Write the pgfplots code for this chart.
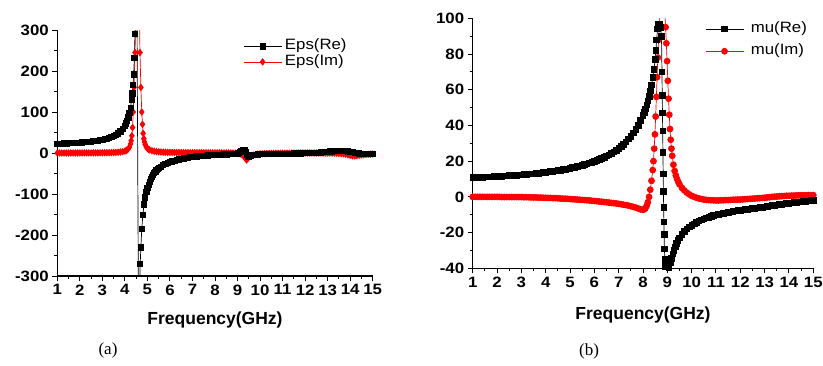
\documentclass[border=0pt]{standalone}
\usepackage{pgfplots}
\pgfplotsset{compat=1.18}
\usepackage{pgfplotstable}
\usepackage{fontspec}
\setmainfont{Liberation Serif}
\newfontfamily\arialx[FakeStretch=1.12]{Liberation Sans}
\newfontfamily\arial{Liberation Sans}

\pgfplotstableread[row sep=\\]{x y\\
1.0 23.0\\1.1 23.1\\1.2 23.3\\1.3 23.5\\1.4 23.7\\1.5 23.9\\1.6 24.2\\1.7 24.5\\1.8 24.8\\1.9 25.1\\2.0 25.5\\2.1 25.9\\2.2 26.4\\2.3 26.9\\2.4 27.4\\2.5 28.0\\2.6 28.7\\2.7 29.5\\2.8 30.4\\2.9 31.4\\3.0 32.5\\3.1 33.8\\3.2 35.3\\3.3 37.0\\3.4 39.1\\3.5 41.5\\3.6 44.5\\3.7 48.1\\3.8 52.7\\3.9 58.8\\4.0 67.0\\4.05 72.3\\4.1 78.8\\4.15 86.9\\4.2 97.3\\4.25 110.9\\4.3 130\\4.33 145.4\\4.36 165.3\\4.39 192\\4.42 231.6\\4.45 290\\4.48 396\\4.51 628\\
4.62 -560\\4.65 -330\\4.68 -270\\4.71 -230\\4.75 -185\\4.8 -150\\4.85 -125\\4.9 -108\\4.95 -95\\5.0 -85\\5.05 -77\\5.1 -70\\5.15 -64\\5.2 -58\\5.25 -53\\5.3 -49\\5.35 -45.5\\5.4 -42\\5.45 -39.5\\5.5 -37\\5.6 -33\\5.7 -29.5\\5.8 -26.5\\5.9 -24\\6.0 -22\\6.1 -20.2\\6.2 -18.5\\6.3 -17\\6.4 -15.5\\6.5 -14.2\\6.6 -13\\6.7 -12\\6.8 -11\\6.9 -10.2\\7.0 -9.5\\7.1 -8.8\\7.2 -8\\7.3 -7.5\\7.4 -7\\7.5 -6.5\\7.6 -6\\7.7 -5.5\\7.8 -5\\7.9 -4.8\\8.0 -4.5\\8.1 -4.2\\8.2 -4\\8.3 -3.7\\8.4 -3.5\\8.5 -3.2\\8.6 -3\\8.7 -2.8\\8.8 -2.5\\8.9 -1.8\\9.0 -1\\9.05 0.5\\9.1 2\\9.15 4\\9.2 6\\9.25 8\\9.3 7\\9.35 2\\9.4 -5\\9.45 -8\\9.5 -8\\9.55 -7.2\\9.6 -6.5\\9.7 -5\\9.8 -4\\9.9 -3.5\\10.0 -3\\10.1 -2.8\\10.2 -2.5\\10.3 -2.3\\10.4 -2.1\\10.5 -2\\10.6 -1.9\\10.7 -1.8\\10.8 -1.7\\10.9 -1.6\\11.0 -1.5\\11.1 -1.4\\11.2 -1.3\\11.3 -1.2\\11.4 -1.1\\11.5 -1\\11.6 -0.9\\11.7 -0.8\\11.8 -0.7\\11.9 -0.6\\12.0 -0.5\\12.1 -0.3\\12.2 -0.1\\12.3 0.1\\12.4 0.3\\12.5 0.5\\12.6 1\\12.7 1.5\\12.8 2\\12.9 2.8\\13.0 3.5\\13.1 3.8\\13.2 4.2\\13.3 4.5\\13.4 4.7\\13.5 4.9\\13.6 5\\13.7 4.8\\13.8 4.4\\13.9 4\\14.0 3\\14.1 2\\14.2 1\\14.3 0\\14.4 -0.8\\14.5 -1.5\\14.6 -2\\14.7 -2.5\\14.8 -2.7\\14.9 -2.9\\15.0 -3\\
}\epsre

\pgfplotstableread[row sep=\\]{x y\\
1.0 0\\1.1 0\\1.2 0\\1.3 0\\1.4 0\\1.5 0\\1.6 0\\1.7 0.1\\1.8 0.1\\1.9 0.1\\2.0 0.1\\2.1 0.1\\2.2 0.2\\2.3 0.2\\2.4 0.2\\2.5 0.2\\2.6 0.3\\2.7 0.3\\2.8 0.4\\2.9 0.4\\3.0 0.5\\3.1 0.6\\3.2 0.7\\3.3 0.8\\3.4 1.0\\3.5 1.2\\3.6 1.5\\3.7 1.9\\3.8 2.4\\3.9 3.2\\4.0 4.6\\4.05 5.8\\4.1 7.5\\4.15 10\\4.2 14\\4.25 22\\4.28 30\\4.31 42\\4.34 62\\4.37 100\\4.41 160\\4.45 245\\4.48 350\\4.51 500\\4.56 650\\4.61 500\\4.64 350\\4.67 245\\4.71 160\\4.75 100\\4.78 70\\4.81 48\\4.84 35\\4.87 27\\4.9 21\\4.95 15\\5.0 11\\5.05 9\\5.1 7.5\\5.2 5.5\\5.3 4.2\\5.4 3.4\\5.5 2.8\\5.6 2.4\\5.7 2.1\\5.8 1.9\\5.9 1.7\\6.0 1.5\\6.1 1.4\\6.2 1.3\\6.3 1.2\\6.4 1.1\\6.5 1.0\\6.6 1.0\\6.7 0.9\\6.8 0.9\\6.9 0.8\\7.0 0.8\\7.1 0.8\\7.2 0.7\\7.3 0.7\\7.4 0.7\\7.5 0.6\\7.6 0.6\\7.7 0.6\\7.8 0.5\\7.9 0.5\\8.0 0.5\\8.1 0.5\\8.2 0.4\\8.3 0.4\\8.4 0.3\\8.5 0.3\\8.6 0.2\\8.7 0.1\\8.8 0\\8.9 -0.3\\9.0 -0.8\\9.1 -1.5\\9.15 -2.5\\9.2 -4\\9.25 -6\\9.3 -9\\9.35 -13\\9.4 -17\\9.45 -14\\9.5 -10.5\\9.55 -8.5\\9.6 -7\\9.7 -5\\9.8 -3.7\\9.9 -2.8\\10.0 -2.2\\10.1 -1.8\\10.2 -1.5\\10.3 -1.3\\10.4 -1.1\\10.5 -1.0\\10.6 -0.9\\10.7 -0.8\\10.8 -0.7\\10.9 -0.6\\11.0 -0.5\\11.1 -0.4\\11.2 -0.4\\11.3 -0.3\\11.4 -0.3\\11.5 -0.2\\11.6 -0.2\\11.7 -0.1\\11.8 -0.1\\11.9 0\\12.0 0\\12.1 0\\12.2 0\\12.3 0\\12.4 0\\12.5 0\\12.6 0\\12.7 0\\12.8 -0.1\\12.9 -0.1\\13.0 -0.2\\13.1 -0.2\\13.2 -0.3\\13.3 -0.4\\13.4 -0.6\\13.5 -0.9\\13.6 -1.4\\13.7 -2.0\\13.8 -3.0\\13.9 -4.3\\14.0 -5.8\\14.1 -7.0\\14.2 -7.2\\14.3 -6.5\\14.4 -5.5\\14.5 -4.6\\14.6 -4.0\\14.7 -3.5\\14.8 -3.1\\14.9 -2.8\\15.0 -2.5\\
}\epsim

\pgfplotstableread[row sep=\\]{x y\\
1.0 11.0\\1.1 11.0\\1.2 11.0\\1.3 11.1\\1.4 11.1\\1.5 11.2\\1.6 11.2\\1.7 11.3\\1.8 11.3\\1.9 11.4\\2.0 11.5\\2.1 11.5\\2.2 11.6\\2.3 11.7\\2.4 11.8\\2.5 11.9\\2.6 12.0\\2.7 12.1\\2.8 12.2\\2.9 12.3\\3.0 12.4\\3.1 12.5\\3.2 12.6\\3.3 12.8\\3.4 12.9\\3.5 13.0\\3.6 13.2\\3.7 13.3\\3.8 13.5\\3.9 13.6\\4.0 13.8\\4.1 14.0\\4.2 14.2\\4.3 14.4\\4.4 14.6\\4.5 14.8\\4.6 15.0\\4.7 15.3\\4.8 15.5\\4.9 15.8\\5.0 16.1\\5.1 16.4\\5.2 16.7\\5.3 17.0\\5.4 17.4\\5.5 17.7\\5.6 18.1\\5.7 18.5\\5.8 19.0\\5.9 19.4\\6.0 19.9\\6.1 20.4\\6.2 21.0\\6.3 21.6\\6.4 22.2\\6.5 22.9\\6.6 23.6\\6.7 24.4\\6.8 25.3\\6.9 26.2\\7.0 27.2\\7.1 28.3\\7.2 29.5\\7.3 30.9\\7.4 32.4\\7.5 34.0\\7.6 35.8\\7.7 37.9\\7.8 40.2\\7.9 42.8\\8.0 45.8\\8.05 47.5\\8.1 49.4\\8.15 51.5\\8.2 53.8\\8.25 56.4\\8.3 59.4\\8.35 62.8\\8.4 66.8\\8.45 71.5\\8.5 77\\8.53 82\\8.56 88\\8.6 94\\8.64 97\\8.68 97\\8.72 95\\8.76 90\\8.78 70\\8.79 57\\8.8 47\\8.81 37\\8.82 25\\8.83 13\\8.84 3\\8.85 -6\\8.86 -14\\8.87 -21\\8.88 -29\\8.9 -35\\8.93 -39\\8.97 -40.5\\9.02 -41\\9.07 -39.5\\9.12 -37\\9.17 -34.5\\9.22 -32\\9.27 -30\\9.32 -28\\9.38 -26\\9.44 -24.5\\9.5 -23\\9.6 -21\\9.7 -19.3\\9.8 -18\\9.9 -16.8\\10.0 -15.8\\10.1 -15\\10.2 -14.2\\10.3 -13.5\\10.4 -12.9\\10.5 -12.3\\10.6 -11.8\\10.7 -11.3\\10.8 -10.9\\10.9 -10.5\\11.0 -10.1\\11.1 -9.8\\11.2 -9.5\\11.3 -9.2\\11.4 -8.9\\11.5 -8.6\\11.6 -8.4\\11.7 -8.1\\11.8 -7.9\\11.9 -7.7\\12.0 -7.5\\12.1 -7.3\\12.2 -7.1\\12.3 -6.9\\12.4 -6.7\\12.5 -6.5\\12.6 -6.3\\12.7 -6.1\\12.8 -5.9\\12.9 -5.7\\13.0 -5.5\\13.1 -5.3\\13.2 -5.1\\13.3 -4.9\\13.4 -4.7\\13.5 -4.5\\13.6 -4.3\\13.7 -4.1\\13.8 -3.9\\13.9 -3.7\\14.0 -3.5\\14.1 -3.3\\14.2 -3.2\\14.3 -3.0\\14.4 -2.8\\14.5 -2.7\\14.6 -2.5\\14.7 -2.4\\14.8 -2.2\\14.9 -2.1\\15.0 -2.0\\
}\mure

\pgfplotstableread[row sep=\\]{x y\\
1.0 0\\1.1 0\\1.2 0\\1.3 0\\1.4 0\\1.5 0\\1.6 0\\1.7 0\\1.8 0\\1.9 0\\2.0 0\\2.1 0\\2.2 -0.1\\2.3 -0.1\\2.4 -0.1\\2.5 -0.1\\2.6 -0.1\\2.7 -0.1\\2.8 -0.1\\2.9 -0.1\\3.0 -0.1\\3.1 -0.2\\3.2 -0.2\\3.3 -0.2\\3.4 -0.3\\3.5 -0.3\\3.6 -0.3\\3.7 -0.4\\3.8 -0.4\\3.9 -0.5\\4.0 -0.5\\4.1 -0.6\\4.2 -0.6\\4.3 -0.7\\4.4 -0.7\\4.5 -0.8\\4.6 -0.9\\4.7 -1.0\\4.8 -1.0\\4.9 -1.1\\5.0 -1.2\\5.1 -1.3\\5.2 -1.4\\5.3 -1.5\\5.4 -1.6\\5.5 -1.7\\5.6 -1.8\\5.7 -1.9\\5.8 -2.0\\5.9 -2.2\\6.0 -2.3\\6.1 -2.4\\6.2 -2.6\\6.3 -2.7\\6.4 -2.9\\6.5 -3.0\\6.6 -3.2\\6.7 -3.4\\6.8 -3.5\\6.9 -3.7\\7.0 -3.9\\7.1 -4.1\\7.2 -4.4\\7.3 -4.6\\7.4 -4.9\\7.5 -5.2\\7.6 -5.6\\7.7 -6.0\\7.8 -6.5\\7.9 -7.0\\8.0 -7.2\\8.05 -7.0\\8.1 -6.3\\8.15 -5.0\\8.2 -3.0\\8.25 0\\8.3 4\\8.35 9\\8.4 15\\8.43 20\\8.46 27\\8.49 35\\8.52 45\\8.55 56\\8.58 67\\8.61 78\\8.64 88\\8.67 96\\8.7 102\\8.75 108\\8.8 110\\8.85 108\\8.9 102\\8.93 95\\8.96 86\\8.99 76\\9.02 65\\9.05 55\\9.08 46\\9.11 38\\9.14 32\\9.17 27\\9.2 23\\9.25 18\\9.3 14.5\\9.35 12\\9.4 10\\9.45 8.4\\9.5 7\\9.6 5\\9.7 3.6\\9.8 2.4\\9.9 1.4\\10.0 0.6\\10.1 0\\10.2 -0.5\\10.3 -0.9\\10.4 -1.2\\10.5 -1.5\\10.6 -1.7\\10.7 -1.8\\10.8 -1.9\\10.9 -1.9\\11.0 -2.0\\11.1 -2.0\\11.2 -1.9\\11.3 -1.9\\11.4 -1.8\\11.5 -1.8\\11.6 -1.7\\11.7 -1.6\\11.8 -1.6\\11.9 -1.5\\12.0 -1.5\\12.1 -1.4\\12.2 -1.3\\12.3 -1.2\\12.4 -1.1\\12.5 -1.0\\12.6 -0.9\\12.7 -0.8\\12.8 -0.7\\12.9 -0.6\\13.0 -0.5\\13.1 -0.3\\13.2 -0.2\\13.3 0\\13.4 0.1\\13.5 0.2\\13.6 0.3\\13.7 0.4\\13.8 0.5\\13.9 0.6\\14.0 0.6\\14.1 0.7\\14.2 0.7\\14.3 0.8\\14.4 0.8\\14.5 0.9\\14.6 0.9\\14.7 0.9\\14.8 1.0\\14.9 1.0\\15.0 1.0\\
}\muim

\pgfplotsset{
  panel/.style={
    scale only axis,
    axis lines=left,
    axis line style={-, line width=1.3pt},
    tick align=outside,
    tick style={line width=1pt, black},
    major tick length=5pt,
    minor tick length=3pt,
    xmin=1, xmax=15, xtick={1,...,15},
    minor x tick num=1, minor y tick num=1,
    ticklabel style={font=\arialx\bfseries\fontsize{15}{15}\selectfont},
    /pgf/number format/assume math mode=true,
    xlabel={Frequency(GHz)},
    xlabel style={font=\arial\bfseries\fontsize{17.5}{17.5}\selectfont, anchor=center},
    legend cell align=left,
    reverse legend,
    legend image code/.code={\draw[##1, mark repeat=2, mark phase=2] plot coordinates {(0pt,0pt) (19pt,0pt) (38pt,0pt)};},
  },
}

\begin{document}
\begin{tikzpicture}
\useasboundingbox (0,0) rectangle (823pt,365pt);
% (a)
\begin{axis}[panel,
  at={(57.3pt,89pt)}, anchor=south west,
  width=315.4pt, height=246pt,
  ymin=-300, ymax=300, ytick={-300,-200,...,300},
  xlabel style={at={(axis description cs:0.5,-0.179)}},
  legend style={draw=none, fill=none, at={(axis description cs:0.589,0.902)}, anchor=west,
    font=\arialx\fontsize{15}{15}\selectfont, inner sep=0pt, row sep=1.6pt, column sep=3pt,
    nodes={inner sep=0pt, text height=10.5pt, text depth=3.5pt}},
]
\addplot[red, line width=0.7pt, mark=diamond*, mark size=3.2pt, mark options={solid, fill=red}] table {\epsim};
\addlegendentry{Eps(Im)}
\addplot[black, line width=0.7pt, mark=square*, mark size=2.6pt, mark options={solid, fill=black}] table {\epsre};
\addlegendentry{Eps(Re)}
\end{axis}
% (b)
\begin{axis}[panel,
  at={(472.7pt,96.7pt)}, anchor=south west,
  width=340.6pt, height=250pt,
  ymin=-40, ymax=100, ytick={-40,-20,...,100},
  xlabel style={at={(axis description cs:0.5,-0.187)}},
  legend style={draw=none, fill=none, at={(axis description cs:0.682,0.913)}, anchor=west,
    font=\arialx\fontsize{15}{15}\selectfont, inner sep=0pt, row sep=8.4pt, column sep=7pt,
    nodes={inner sep=0pt, text height=10.5pt, text depth=3.5pt}},
]
\addplot[red, line width=0.7pt, mark=*, mark size=3.0pt, mark options={solid, fill=red}] table {\muim};
\addlegendentry{mu(Im)}
\addplot[black, line width=0.7pt, mark=square*, mark size=2.8pt, mark options={solid, fill=black}] table {\mure};
\addlegendentry{mu(Re)}
\end{axis}
\node[font=\fontsize{17}{17}\selectfont] at (108pt,15pt) {(a)};
\node[font=\fontsize{17}{17}\selectfont] at (589pt,13.3pt) {(b)};
\end{tikzpicture}
\end{document}
